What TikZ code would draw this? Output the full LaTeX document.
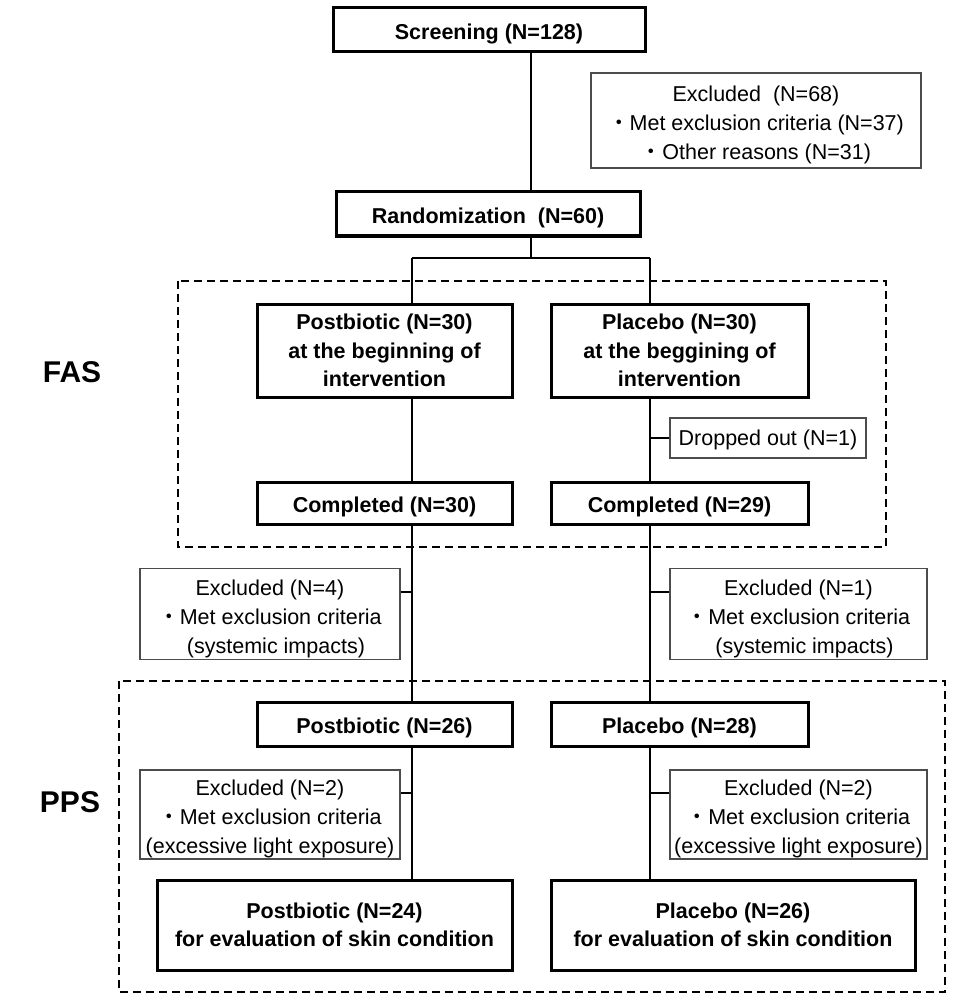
\documentclass[tikz,border=0pt]{standalone}
\usepackage{fontspec}
\setmainfont{Liberation Sans}
\newfontfamily\cjk{Noto Sans CJK JP}
\newcommand{\bul}{{\cjk ・}}
\newcommand{\lowr}{\rule{0pt}{25pt}}
\begin{document}
\begin{tikzpicture}[x=1pt,y=-1pt,
  sz/.style 2 args={minimum width=#1pt, minimum height=#2pt},
  thickbox/.style={draw, line width=3pt, inner sep=0pt, align=center,
    font=\fontsize{21.5}{28.5}\selectfont\bfseries,
    execute at begin node={\rule{0pt}{1.05em}}},
  thinbox/.style={draw=black!70, line width=1.3pt, inner sep=0pt, align=center,
    font=\fontsize{21.5}{29}\selectfont,
    execute at begin node={\rule{0pt}{0.95em}}},
  link/.style={line width=2pt},
  group/.style={line width=2.3pt, dash pattern=on 8pt off 5pt},
  side/.style={font=\fontsize{30}{32}\selectfont\bfseries}]
\useasboundingbox (0,0) rectangle (968,1000);

% group frames
\draw[group] (178,281) rectangle (886,547);
\draw[group] (119,681) rectangle (945,992);
\node[side] (fas) at (72,372) {FAS};
\node[side] (pps) at (70,802) {PPS};

% top
\node[thickbox, sz={312}{44}] (screen) at (489,30) {Screening (N=128)};
\node[thinbox, sz={330}{95}] (excl68) at (756,120.5)
  {\lowr Excluded\ \ (N=68)\\\bul Met exclusion criteria (N=37)\\\bul Other reasons (N=31)};
\node[thickbox, sz={304}{44}] (rand) at (488,214) {Randomization\ \ (N=60)};

% FAS stage
\node[thickbox, sz={255}{93}] (post30) at (384.5,350.5)
  {Postbiotic (N=30)\\at the beginning of\\intervention};
\node[thickbox, sz={257}{93}] (plac30) at (679.5,350.5)
  {Placebo (N=30)\\at the beggining of\\intervention};
\node[thinbox, sz={196}{40}] (drop) at (768,438) {Dropped out (N=1)};
\node[thickbox, sz={255}{42}] (comp30) at (384.5,503) {Completed (N=30)};
\node[thickbox, sz={257}{42}] (comp29) at (679.5,503) {Completed (N=29)};

% exclusions between FAS and PPS
\node[thinbox, sz={260}{91}] (excl4) at (270,614)
  {\lowr Excluded (N=4)\\\bul Met exclusion criteria\\\ \ (systemic impacts)};
\node[thinbox, sz={257}{91}] (excl1) at (798.5,614)
  {\lowr Excluded (N=1)\\\bul Met exclusion criteria\\\ \ (systemic impacts)};

% PPS stage
\node[thickbox, sz={255}{44}] (post26) at (384.5,724) {Postbiotic (N=26)};
\node[thickbox, sz={257}{44}] (plac28) at (679.5,724) {Placebo (N=28)};
\node[thinbox, sz={260}{89}] (excl2l) at (270,814.5)
  {\lowr Excluded (N=2)\\\bul Met exclusion criteria\\(excessive light exposure)};
\node[thinbox, sz={257}{89}] (excl2r) at (798.5,814.5)
  {\lowr Excluded (N=2)\\\bul Met exclusion criteria\\(excessive light exposure)};
\node[thickbox, sz={355}{90}] (post24) at (334.5,925)
  {Postbiotic (N=24)\\for evaluation of skin condition};
\node[thickbox, sz={364}{90}] (plac26) at (733,925)
  {Placebo (N=26)\\for evaluation of skin condition};

% connectors
\coordinate (mx) at (531,0);
\coordinate (lx) at (412,258);
\coordinate (rx) at (650,258);
\draw[link] (screen.south -| mx) -- (rand.north -| mx);
\draw[link] (rand.south -| mx) -- (mx |- lx);
\draw[link] (lx) -- (rx);
\draw[link] (lx) -- (post30.north -| lx);
\draw[link] (rx) -- (plac30.north -| rx);
\draw[link] (post30.south -| lx) -- (comp30.north -| lx);
\draw[link] (plac30.south -| rx) -- (comp29.north -| rx);
\draw[link] (comp30.south -| lx) -- (post26.north -| lx);
\draw[link] (comp29.south -| rx) -- (plac28.north -| rx);
\draw[link] (post26.south -| lx) -- (post24.north -| lx);
\draw[link] (plac28.south -| rx) -- (plac26.north -| rx);

\draw[link] (drop.west) -- (drop.west -| rx);
\path ([yshift=22pt]excl4.east) coordinate (e4);
\path ([yshift=22pt]excl1.west) coordinate (e1);
\path ([yshift=22pt]excl2l.east) coordinate (e2l);
\path ([yshift=22pt]excl2r.west) coordinate (e2r);
\draw[link] (e4) -- (e4 -| lx);
\draw[link] (e1) -- (e1 -| rx);
\draw[link] (e2l) -- (e2l -| lx);
\draw[link] (e2r) -- (e2r -| rx);
\end{tikzpicture}
\end{document}
